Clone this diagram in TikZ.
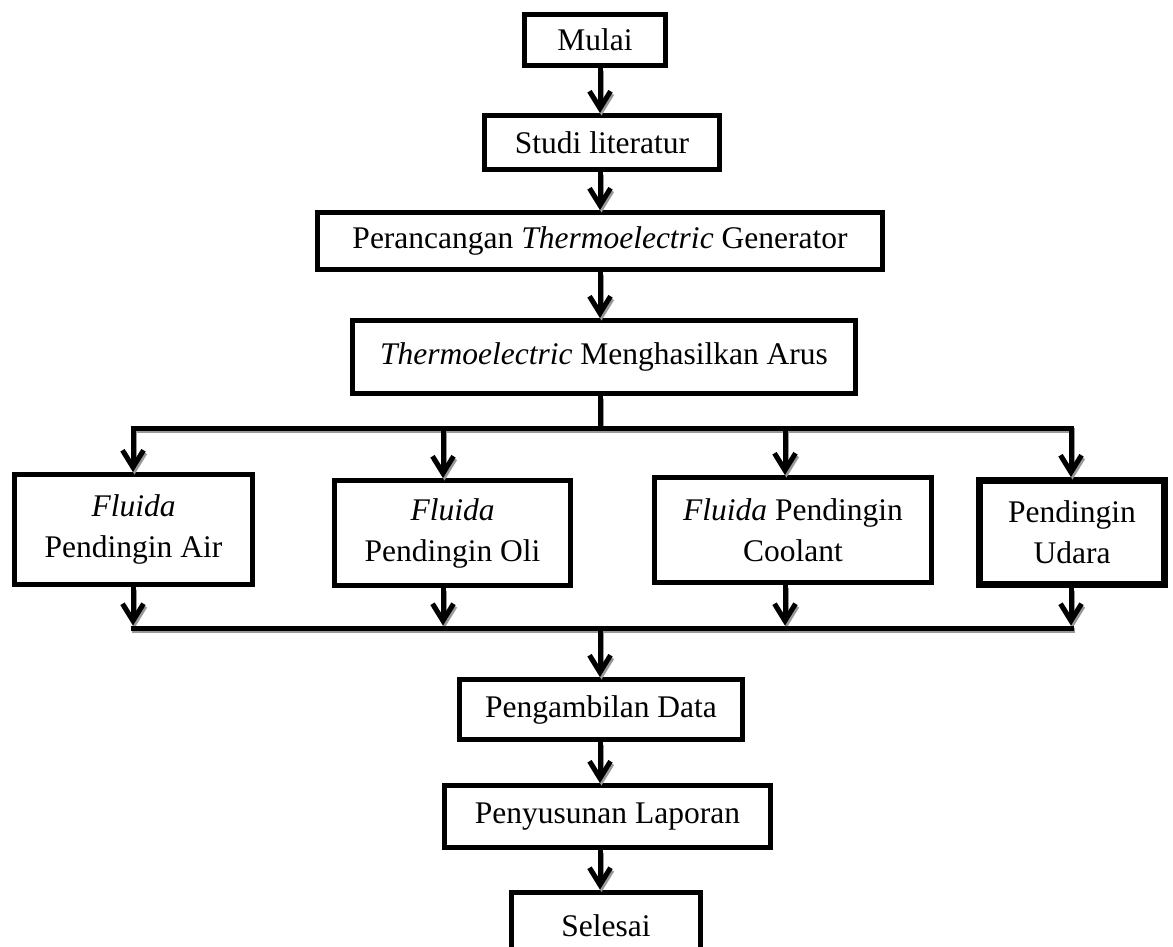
\documentclass[tikz,border=0pt]{standalone}
\usepackage{fontspec}
\setmainfont{Liberation Serif}
\usetikzlibrary{arrows.meta}
\tikzset{
  box/.style={draw, line width=5pt, inner sep=0pt, align=center,
    font=\fontsize{31.5}{41}\selectfont},
  conn/.style={line width=5pt, -{Straight Barb[length=17pt,width=21pt]}},
  busline/.style={line width=5pt},
  gshadow/.style={draw=black!40, transform canvas={shift={(1.5pt,-2.5pt)}}},
}
\newcommand\sdraw[2]{\draw[#1,gshadow] #2; \draw[#1] #2;}
\begin{document}
\begin{tikzpicture}[x=1pt,y=-1pt]
\useasboundingbox (0,0) rectangle (1173,946);
% main column
\node[box, minimum width=141pt, minimum height=51pt] (mulai) at (595,40) {Mulai};
\node[box, minimum width=235pt, minimum height=54pt] (studi) at (602,142.5) {Studi literatur};
\node[box, minimum width=565pt, minimum height=57pt] (peranc) at (600,241) {Perancangan \textit{Thermoelectric} Generator};
\node[box, minimum width=503pt, minimum height=73pt] (thermo) at (604,357) {\textit{Thermoelectric} Menghasilkan Arus};
% row of cooling options
\node[box, minimum width=238pt, minimum height=110pt] (air) at (133.5,529.5) {\textit{Fluida}\\Pendingin Air};
\node[box, minimum width=236pt, minimum height=105pt] (oli) at (452.5,533) {\textit{Fluida}\\Pendingin Oli};
\node[box, minimum width=277pt, minimum height=105pt] (coolant) at (793,530) {\textit{Fluida} Pendingin\\Coolant};
\node[box, line width=7pt, minimum width=185pt, minimum height=104pt] (udara) at (1072,532.5) {Pendingin\\Udara};
% lower column
\node[box, minimum width=283pt, minimum height=60pt] (data) at (601,709.5) {Pengambilan Data};
\node[box, minimum width=326pt, minimum height=62pt] (lapor) at (607.5,816.5) {Penyusunan Laporan};
\node[box, minimum width=189pt, minimum height=68pt] (selesai) at (606,926) {Selesai};
% junction coordinates
\coordinate (axis) at (600,0);
\coordinate (ua) at (133,428);
\coordinate (ub) at (443,428);
\coordinate (uc) at (785,428);
\coordinate (ud) at (1071,428);
\coordinate (ux) at (600,428);
\coordinate (la) at (133,628);
\coordinate (lb) at (443,628);
\coordinate (lc) at (785,628);
\coordinate (ld) at (1071,628);
\coordinate (lx) at (600,628);
% main connectors
\sdraw{conn}{(mulai.south -| axis) -- (studi.north -| axis)}
\sdraw{conn}{(studi.south -| axis) -- (peranc.north -| axis)}
\sdraw{conn}{(peranc.south -| axis) -- (thermo.north -| axis)}
\sdraw{busline}{(thermo.south -| axis) -- (ux)}
% upper bus
\sdraw{busline}{([xshift=-2.5pt]ua) -- ([xshift=2.5pt]ud)}
\sdraw{conn}{(ua) -- (air.north -| ua)}
\sdraw{conn}{(ub) -- (oli.north -| ub)}
\sdraw{conn}{(uc) -- (coolant.north -| uc)}
\sdraw{conn}{(ud) -- (udara.north -| ud)}
% lower bus
\sdraw{conn}{(air.south -| la) -- ([yshift=2.5pt]la)}
\sdraw{conn}{(oli.south -| lb) -- ([yshift=2.5pt]lb)}
\sdraw{conn}{(coolant.south -| lc) -- ([yshift=2.5pt]lc)}
\sdraw{conn}{(udara.south -| ld) -- ([yshift=2.5pt]ld)}
\sdraw{busline}{([xshift=-2.5pt]la) -- ([xshift=2.5pt]ld)}
\sdraw{conn}{(lx) -- (data.north -| lx)}
\sdraw{conn}{(data.south -| axis) -- (lapor.north -| axis)}
\sdraw{conn}{(lapor.south -| axis) -- (selesai.north -| axis)}
\end{tikzpicture}
\end{document}
